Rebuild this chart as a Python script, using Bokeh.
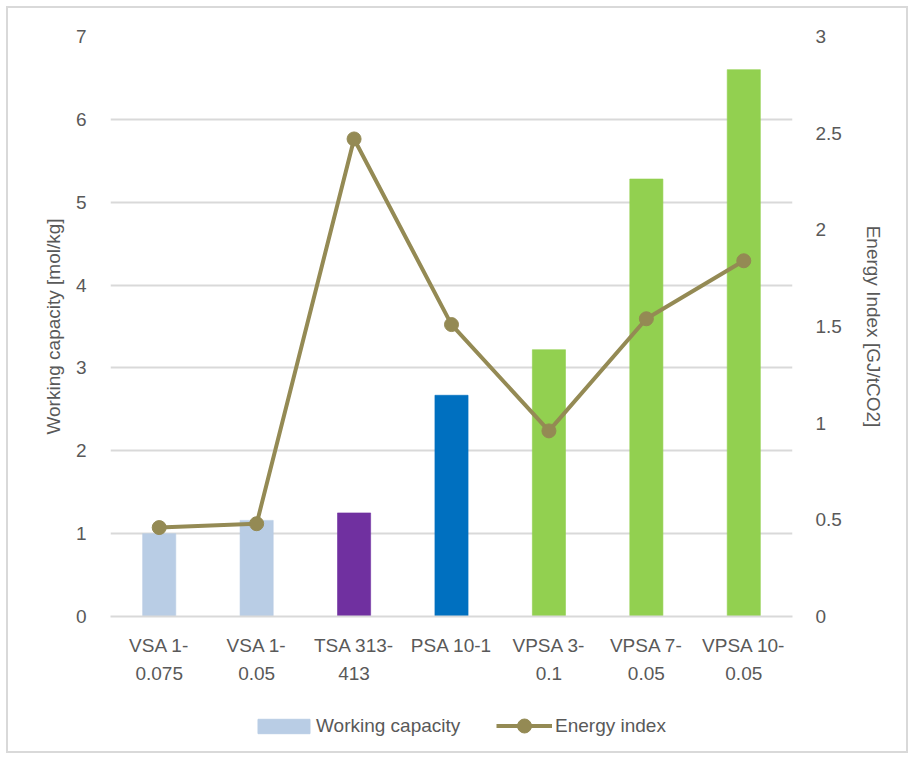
from bokeh.plotting import figure
from bokeh.layouts import column
from bokeh.models import (FactorRange, Range1d, LinearAxis, FixedTicker, Legend,
                          LegendItem, ColumnDataSource)
from bokeh.embed import file_html
from bokeh.resources import INLINE

# Adsorption process configurations
categories = ["VSA 1-\n0.075", "VSA 1-\n0.05", "TSA 313-\n413", "PSA 10-1",
              "VPSA 3-\n0.1", "VPSA 7-\n0.05", "VPSA 10-\n0.05"]
working_capacity = [1.00, 1.16, 1.25, 2.67, 3.22, 5.28, 6.60]   # mol/kg
energy_index = [0.46, 0.48, 2.47, 1.51, 0.96, 1.54, 1.84]      # GJ/tCO2
bar_colors = ["#B9CDE5", "#B9CDE5", "#7030A0", "#0070C0", "#92D050", "#92D050", "#92D050"]
left_ticks = [0, 1, 2, 3, 4, 5, 6, 7]
right_ticks = [0, 0.5, 1, 1.5, 2, 2.5, 3]

FONT = "Liberation Sans"
FS = "19px"
TXT = "#595959"
GRID = "#D9D9D9"
LINE = "#948A54"
WC_COLOR = "#B9CDE5"

src = ColumnDataSource(dict(cat=categories, wc=working_capacity,
                            ei=energy_index, color=bar_colors))

# ---- main chart -------------------------------------------------------
p = figure(width=914, height=700, output_backend="svg", toolbar_location=None,
           x_range=FactorRange(*categories, range_padding=0),
           y_range=Range1d(0, 7),
           min_border_left=110, min_border_right=122, min_border_top=36,
           min_border_bottom=84)
p.extra_y_ranges = {"energy": Range1d(0, 3)}
p.outline_line_color = None
p.background_fill_color = "white"
p.border_fill_color = None

# bars on the left axis
p.vbar(x="cat", top="wc", width=0.34, fill_color="color",
       line_color="color", line_alpha=0.6, source=src)

# energy index line on the right axis
p.line(x="cat", y="ei", line_color=LINE, line_width=4, source=src,
       y_range_name="energy")
p.scatter(x="cat", y="ei", size=14, fill_color=LINE, line_color=LINE,
          source=src, y_range_name="energy")


def style_axis(ax, standoff, label_standoff):
    ax.axis_line_color = None
    ax.major_tick_line_color = None
    ax.minor_tick_line_color = None
    ax.major_label_text_font = FONT
    ax.major_label_text_font_size = FS
    ax.major_label_text_color = TXT
    ax.major_label_standoff = standoff
    ax.axis_label_text_font = FONT
    ax.axis_label_text_font_size = FS
    ax.axis_label_text_font_style = "normal"
    ax.axis_label_text_color = TXT
    ax.axis_label_standoff = label_standoff


# left axis
ya = p.yaxis[0]
ya.ticker = FixedTicker(ticks=left_ticks)
ya.axis_label = "Working capacity [mol/kg]"
style_axis(ya, 18, 9)

# right axis
ra = LinearAxis(y_range_name="energy", ticker=FixedTicker(ticks=right_ticks))
ra.axis_label = "Energy Index [GJ/tCO2]"
style_axis(ra, 17, 18)
p.add_layout(ra, "right")

# category axis
xa = p.xaxis[0]
style_axis(xa, 12, 0)
xa.major_label_text_line_height = 1.35
xa.axis_line_color = GRID
xa.axis_line_width = 2

p.xgrid.grid_line_color = None
p.ygrid.grid_line_color = GRID
p.ygrid.grid_line_width = 2

# ---- legend strip -----------------------------------------------------
lg = figure(width=914, height=59, output_backend="svg", toolbar_location=None,
            x_axis_type=None, y_axis_type=None, min_border=0,
            x_range=Range1d(0, 1), y_range=Range1d(0, 1))
lg.outline_line_color = None
lg.background_fill_color = None
lg.border_fill_color = None
lg.grid.visible = False

# key glyphs sit outside the visible range; only their legend swatches show
offscreen = ColumnDataSource(dict(x=[-10], y=[-10]))
key_bar = lg.vbar(x="x", top="y", width=0.1, fill_color=WC_COLOR,
                  line_color=WC_COLOR, source=offscreen)
key_line = lg.line(x="x", y="y", line_color=LINE, line_width=4, source=offscreen)
key_dot = lg.scatter(x="x", y="y", size=14, fill_color=LINE, line_color=LINE,
                     source=offscreen)

legend_style = dict(orientation="horizontal", label_text_font=FONT,
                    label_text_font_size=FS, label_text_color=TXT,
                    label_height=18, padding=0, margin=0,
                    border_line_color=None, background_fill_alpha=0)

lg.add_layout(Legend(items=[LegendItem(label="Working capacity", renderers=[key_bar])],
                     location=(141, 22), glyph_width=65, glyph_height=18,
                     label_standoff=0, **legend_style))
lg.add_layout(Legend(items=[LegendItem(label="Energy index", renderers=[key_line, key_dot])],
                     location=(386, 16), glyph_width=56, glyph_height=35,
                     label_standoff=3, **legend_style))

layout = column(p, lg, spacing=0)
# light frame around the whole chart
layout.styles = {"outline": "2px solid #D9D9D9", "outline-offset": "-8px",
                 "background-color": "white"}

open("out.html", "w").write(file_html(layout, INLINE))
